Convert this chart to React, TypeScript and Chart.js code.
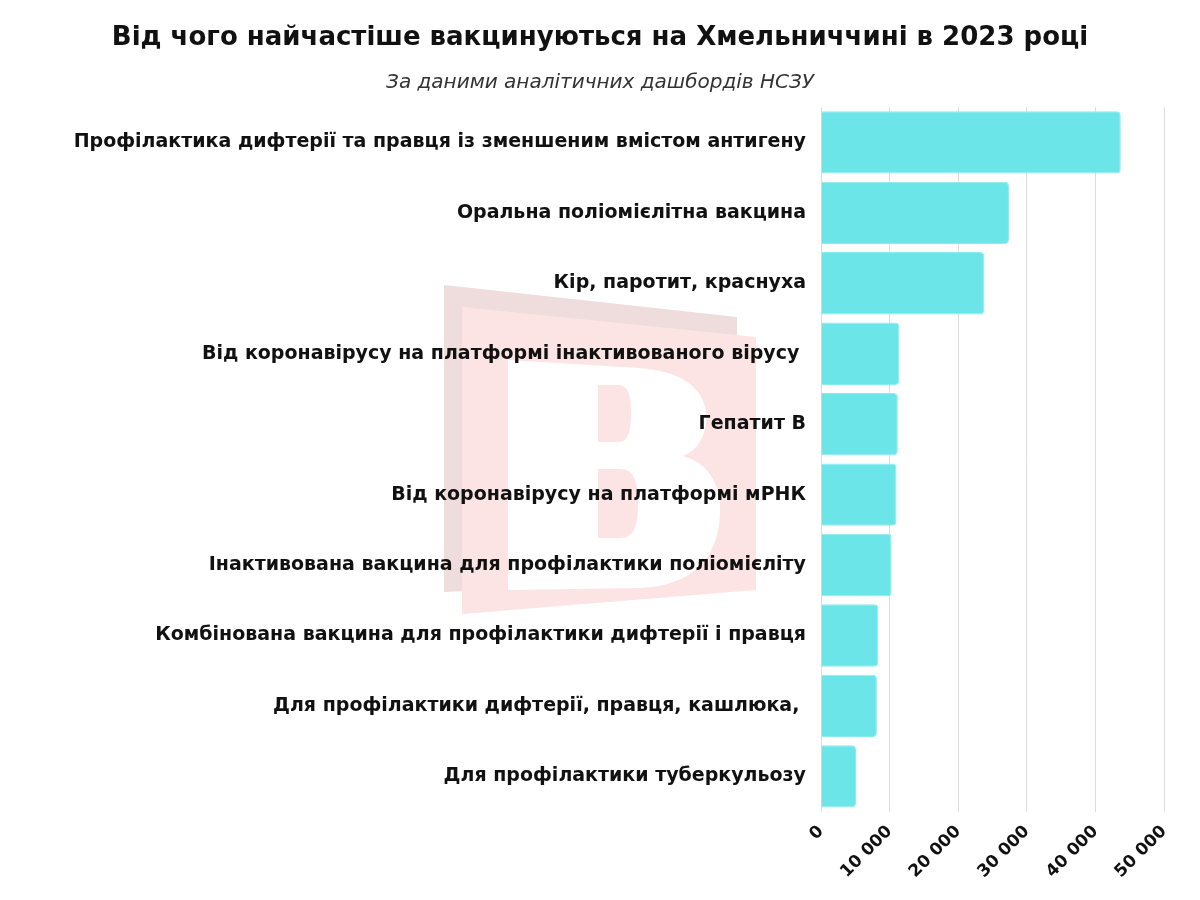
import React, { useEffect, useRef } from "react";
import { Chart, registerables } from "chart.js";

Chart.register(...registerables);

const TITLE = "Від чого найчастіше вакцинуються на Хмельниччині в 2023 році";
const SUBTITLE = "За даними аналітичних дашбордів НСЗУ";

const categories = [
  "Профілактика дифтерії та правця із зменшеним вмістом антигену",
  "Оральна поліомієлітна вакцина",
  "Кір, паротит, краснуха",
  "Від коронавірусу на платформі інактивованого вірусу ",
  "Гепатит В",
  "Від коронавірусу на платформі мРНК",
  "Інактивована вакцина для профілактики поліомієліту",
  "Комбінована вакцина для профілактики дифтерії і правця",
  "Для профілактики дифтерії, правця, кашлюка, ",
  "Для профілактики туберкульозу",
];

const vaccinations = [43700, 27400, 23800, 11400, 11200, 11000, 10300, 8350, 8150, 5100];

const xMin = 0;
const xMax = 50000;
const xStep = 10000;

const FONT = "'DejaVu Sans', sans-serif";
const BAR_COLOR = "#6be5e8";

const formatThousands = (v: number) =>
  String(v).replace(/\B(?=(\d{3})+(?!\d))/g, " ");

const watermarkPlugin = {
  id: "watermark",
  beforeDraw(chart: any) {
    const ctx = chart.ctx as CanvasRenderingContext2D;
    const sx = chart.width / 1200;
    const sy = chart.height / 900;
    const P = (x: number, y: number): [number, number] => [x * sx, y * sy];
    ctx.save();
    ctx.fillStyle = "#ffffff";
    ctx.fillRect(0, 0, chart.width, chart.height);
    // rear panel
    ctx.fillStyle = "#efdcdc";
    ctx.beginPath();
    ctx.moveTo(...P(444, 285));
    ctx.lineTo(...P(737, 317));
    ctx.lineTo(...P(737, 580));
    ctx.lineTo(...P(444, 592));
    ctx.closePath();
    ctx.fill();
    // front panel
    ctx.fillStyle = "#fde4e4";
    ctx.beginPath();
    ctx.moveTo(...P(462, 307));
    ctx.lineTo(...P(756, 337));
    ctx.lineTo(...P(756, 590));
    ctx.lineTo(...P(462, 614));
    ctx.closePath();
    ctx.fill();
    // white B
    ctx.fillStyle = "#ffffff";
    ctx.beginPath();
    ctx.moveTo(...P(508, 360));
    ctx.lineTo(...P(640, 368));
    ctx.bezierCurveTo(...P(690, 372), ...P(708, 395), ...P(706, 420));
    ctx.bezierCurveTo(...P(705, 440), ...P(695, 452), ...P(682, 456));
    ctx.bezierCurveTo(...P(708, 462), ...P(722, 485), ...P(720, 515));
    ctx.bezierCurveTo(...P(718, 560), ...P(690, 586), ...P(640, 588));
    ctx.lineTo(...P(508, 590));
    ctx.closePath();
    ctx.fill();
    // counters
    ctx.fillStyle = "#fde4e4";
    ctx.beginPath();
    ctx.moveTo(...P(598, 385));
    ctx.lineTo(...P(618, 385));
    ctx.bezierCurveTo(...P(628, 385), ...P(631, 395), ...P(631, 413));
    ctx.bezierCurveTo(...P(631, 432), ...P(628, 442), ...P(618, 442));
    ctx.lineTo(...P(598, 442));
    ctx.closePath();
    ctx.fill();
    ctx.beginPath();
    ctx.moveTo(...P(598, 469));
    ctx.lineTo(...P(620, 469));
    ctx.bezierCurveTo(...P(634, 469), ...P(638, 482), ...P(638, 503));
    ctx.bezierCurveTo(...P(638, 526), ...P(634, 538), ...P(620, 538));
    ctx.lineTo(...P(598, 538));
    ctx.closePath();
    ctx.fill();
    ctx.restore();
  },
};

export default function App() {
  const canvasRef = useRef<HTMLCanvasElement | null>(null);

  useEffect(() => {
    if (!canvasRef.current) return;
    const chart = new Chart(canvasRef.current, {
      type: "bar",
      data: {
        labels: categories,
        datasets: [
          {
            data: vaccinations,
            backgroundColor: BAR_COLOR,
            borderColor: "#8aecee",
            borderWidth: 1,
            borderRadius: 4,
            categoryPercentage: 1,
            barPercentage: 0.886,
          },
        ],
      },
      options: {
        indexAxis: "y",
        animation: false,
        responsive: true,
        maintainAspectRatio: false,
        layout: { padding: { left: 36, right: 36, top: 0, bottom: 8 } },
        plugins: {
          legend: { display: false },
          tooltip: { enabled: false },
          title: {
            display: true,
            text: TITLE,
            color: "#111111",
            font: { family: FONT, size: 26, weight: "bold" },
            padding: { top: 23, bottom: 17 },
          },
          subtitle: {
            display: true,
            text: SUBTITLE,
            color: "#333333",
            font: { family: FONT, size: 20, style: "italic", weight: "normal" },
            padding: { top: 0, bottom: 12 },
          },
        },
        scales: {
          x: {
            min: xMin,
            max: xMax,
            border: { display: false },
            grid: { color: "#dcdcdc", lineWidth: 1, drawTicks: false },
            ticks: {
              stepSize: xStep,
              maxRotation: 45,
              minRotation: 45,
              padding: 10,
              color: "#111111",
              font: { family: FONT, size: 17, weight: "bold" },
              callback: (v: any) => formatThousands(Number(v)),
            },
          },
          y: {
            border: { display: false },
            grid: { display: false, drawTicks: false },
            ticks: {
              padding: 15,
              color: "#111111",
              font: { family: FONT, size: 19, weight: "bold" },
            },
            afterFit: (s: any) => {
              s.width = 785;
            },
          },
        },
      },
      plugins: [watermarkPlugin],
    });
    return () => chart.destroy();
  }, []);

  return (
    <div style={{ position: "fixed", left: 0, top: 0, width: 1200, height: 900, background: "#fff" }}>
      <canvas ref={canvasRef} />
    </div>
  );
}
